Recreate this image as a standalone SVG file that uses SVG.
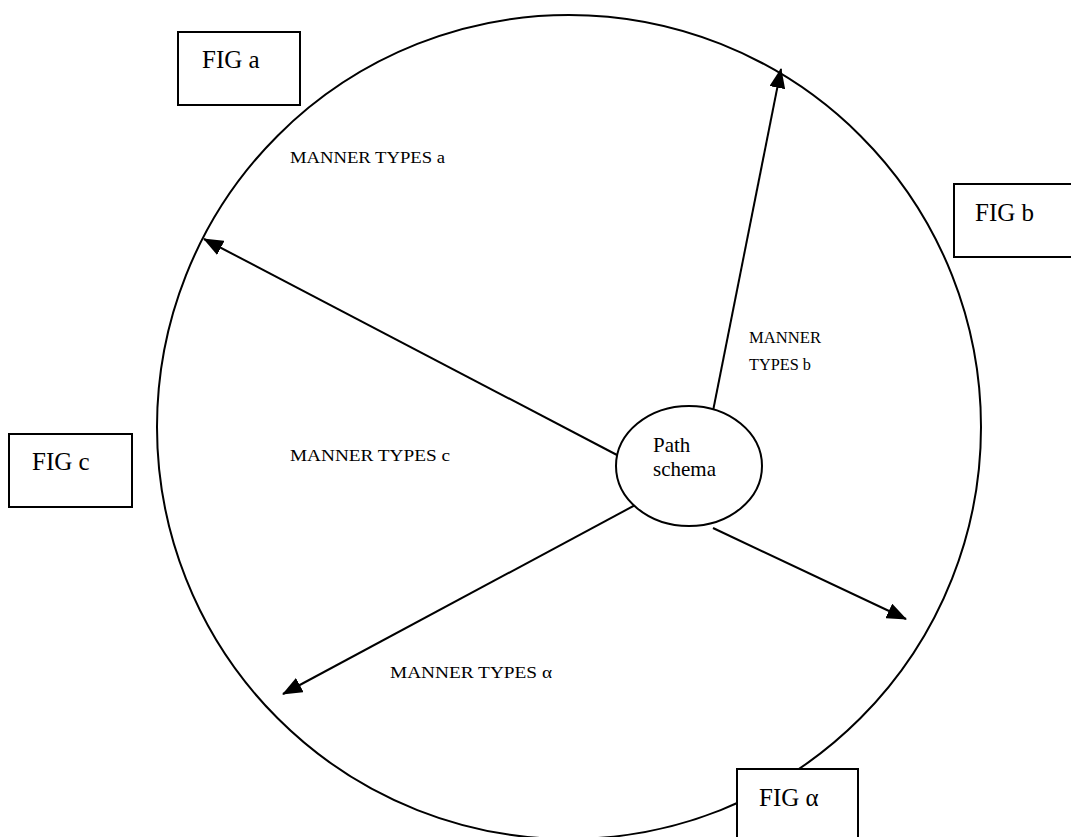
<svg xmlns="http://www.w3.org/2000/svg" width="1071" height="837" viewBox="0 0 1071 837">
  <style>
    .edge { fill: none; stroke: #000; stroke-width: 2; }
    .box { fill: #fff; stroke: #000; stroke-width: 2; }
    .fig { font-family: "Liberation Serif", "Times New Roman", serif; font-size: 25px; fill: #000; }
    .lbl { font-family: "Liberation Serif", "Times New Roman", serif; font-size: 16px; fill: #000; }
    .core { font-family: "Liberation Serif", "Times New Roman", serif; font-size: 21px; fill: #000; }
  </style>
  <defs>
    <marker id="arrow" viewBox="0 0 20 16" refX="19" refY="8" markerWidth="20" markerHeight="16" markerUnits="userSpaceOnUse" orient="auto">
      <path d="M0,0 L20,8 L0,16 Z" fill="#000"/>
    </marker>
  </defs>

  <!-- outer domain circle -->
  <g id="domain">
    <circle cx="569" cy="427" r="412" class="edge"/>
  </g>

  <!-- radiating connectors -->
  <g id="connectors">
    <line x1="713" y1="411" x2="781" y2="69" class="edge" marker-end="url(#arrow)"/>
    <line x1="617" y1="455" x2="204" y2="239" class="edge" marker-end="url(#arrow)"/>
    <line x1="639" y1="503" x2="283" y2="694" class="edge" marker-end="url(#arrow)"/>
    <line x1="713" y1="528" x2="906" y2="619" class="edge" marker-end="url(#arrow)"/>
  </g>

  <g id="path-schema">
    <ellipse cx="689" cy="466" rx="73" ry="60" class="box"/>
    <text x="653" y="452" class="core">Path</text>
    <text x="653" y="476" class="core">schema</text>
  </g>

  <g id="fig-a">
    <rect x="178" y="32" width="122" height="73" class="box"/>
    <text x="202" y="68" class="fig">FIG a</text>
  </g>
  <g id="fig-b">
    <rect x="954" y="184" width="120" height="73" class="box"/>
    <text x="975" y="221" class="fig">FIG b</text>
  </g>
  <g id="fig-c">
    <rect x="9" y="434" width="123" height="73" class="box"/>
    <text x="32" y="470" class="fig">FIG c</text>
  </g>
  <g id="fig-alpha">
    <rect x="737" y="769" width="121" height="80" class="box"/>
    <text x="759" y="806" class="fig">FIG α</text>
  </g>

  <!-- manner type labels -->
  <g id="labels">
    <text x="290" y="163" class="lbl" textLength="155" lengthAdjust="spacingAndGlyphs">MANNER TYPES a</text>
    <text x="749" y="343" class="lbl" textLength="72" lengthAdjust="spacingAndGlyphs">MANNER</text>
    <text x="749" y="370" class="lbl" textLength="62" lengthAdjust="spacingAndGlyphs">TYPES b</text>
    <text x="290" y="461" class="lbl" textLength="160" lengthAdjust="spacingAndGlyphs">MANNER TYPES c</text>
    <text x="390" y="678" class="lbl" textLength="162" lengthAdjust="spacingAndGlyphs">MANNER TYPES α</text>
  </g>
</svg>
